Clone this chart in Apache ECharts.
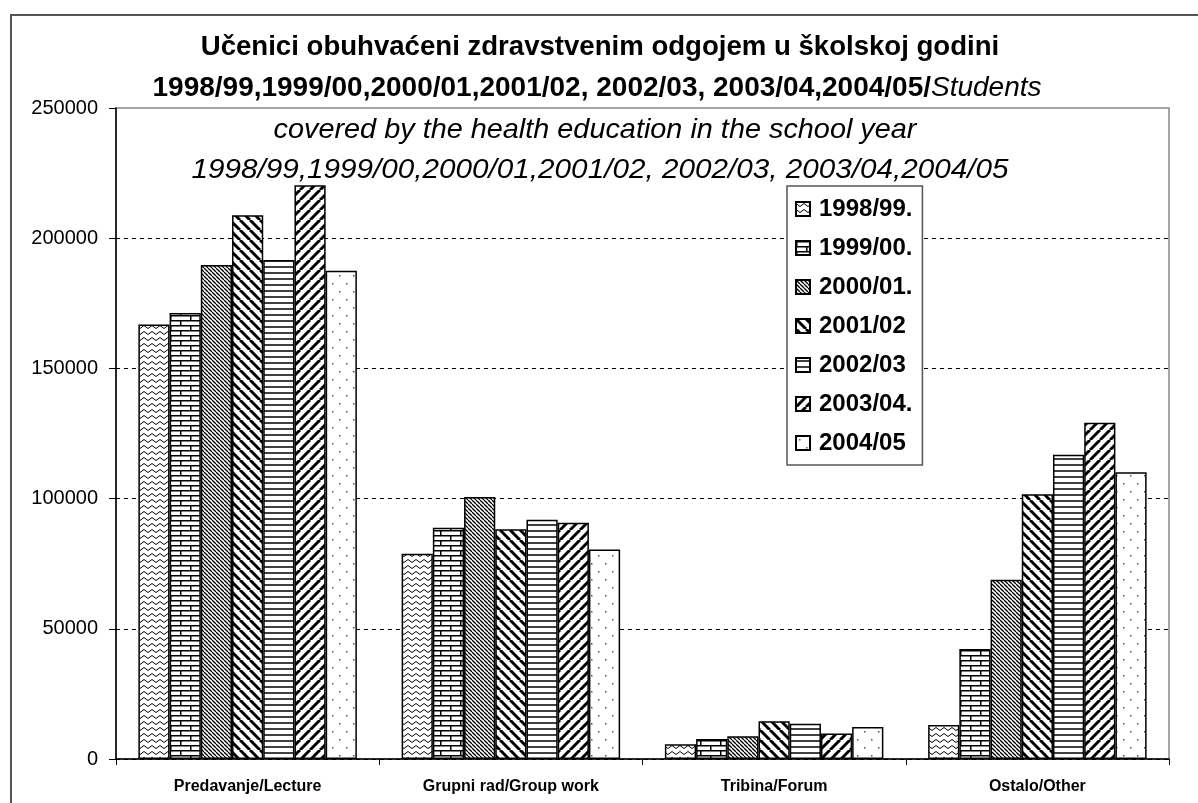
<!DOCTYPE html>
<html>
<head>
<meta charset="utf-8">
<script src="https://cdn.jsdelivr.net/npm/echarts@6/dist/echarts.min.js"></script>
<style>
  html, body { margin: 0; padding: 0; background: #fff; }
  #chart { width: 1198px; height: 803px; }
</style>
</head>
<body>
<div id="chart"></div>
<script>
var categories = ['Predavanje/Lecture', 'Grupni rad/Group work', 'Tribina/Forum', 'Ostalo/Other'];
var years = ['1998/99.', '1999/00.', '2000/01.', '2001/02', '2002/03', '2003/04.', '2004/05'];

var y1998 = [166900, 78800, 5700, 13100];
var y1999 = [171300, 88800, 7700, 42200];
var y2000 = [189700, 100600, 8700, 68800];
var y2001 = [208800, 88200, 14500, 101700];
var y2002 = [191600, 91900, 13500, 116800];
var y2003 = [220300, 90700, 9800, 129100];
var y2004 = [187500, 80500, 12300, 110100];
var values = [y1998, y1999, y2000, y2001, y2002, y2003, y2004];

var titleLine1 = 'Učenici obuhvaćeni zdravstvenim odgojem u školskoj godini';
var titleLine2a = '1998/99,1999/00,2000/01,2001/02, 2002/03, 2003/04,2004/05/';
var titleLine2b = 'Students';
var titleLine3 = 'covered by the health education in the school year';
var titleLine4 = '1998/99,1999/00,2000/01,2001/02, 2002/03, 2003/04,2004/05';

// fill patterns (excel-like hatching)
function pat(w, h, draw) {
    var c = document.createElement('canvas');
    c.width = w; c.height = h;
    var g = c.getContext('2d');
    g.fillStyle = '#fff';
    g.fillRect(0, 0, w, h);
    g.strokeStyle = '#000';
    g.fillStyle = '#000';
    draw(g, w, h);
    return { image: c, repeat: 'repeat' };
}
function diag(g, s, lw, up) {
    g.lineWidth = lw;
    for (var k = -s; k <= s; k += s) {
        g.beginPath();
        if (up) { g.moveTo(k, s); g.lineTo(k + s, 0); }
        else { g.moveTo(k, 0); g.lineTo(k + s, s); }
        g.stroke();
    }
}
var patterns = [
    pat(8, 6, function (g) {
        g.lineWidth = 1;
        g.beginPath();
        g.moveTo(0, 1.5); g.lineTo(4, 4.5); g.lineTo(8, 1.5);
        g.stroke();
    }),
    pat(20, 10, function (g) {
        g.lineWidth = 1.5;
        g.beginPath();
        g.moveTo(0, 0.75); g.lineTo(20, 0.75);
        g.moveTo(0, 5.75); g.lineTo(20, 5.75);
        g.moveTo(0.75, 0); g.lineTo(0.75, 5);
        g.moveTo(10.75, 5); g.lineTo(10.75, 10);
        g.stroke();
    }),
    pat(4, 4, function (g) { diag(g, 4, 1.3, false); }),
    pat(10, 10, function (g) { diag(g, 10, 3, false); }),
    pat(4, 6, function (g) {
        g.lineWidth = 1.5;
        g.beginPath(); g.moveTo(0, 3); g.lineTo(4, 3); g.stroke();
    }),
    pat(10, 10, function (g) { diag(g, 10, 3, true); }),
    pat(14, 16, function (g) {
        g.fillStyle = '#555';
        g.fillRect(3, 3, 1.5, 1.5);
        g.fillRect(10, 11, 1.5, 1.5);
    })
];

var series = years.map(function (name, i) {
    return {
        name: name,
        type: 'bar',
        data: values[i],
        barGap: '0%',
        barCategoryGap: '17%',
        itemStyle: { color: patterns[i], borderColor: '#000', borderWidth: 1.5 },
        emphasis: { disabled: true }
    };
});

var titleFont = 'Liberation Sans, Arial, sans-serif';

var option = {
    animation: false,
    backgroundColor: '#fff',
    grid: {
        left: 116, right: 29, top: 108, bottom: 44,
        show: true, borderColor: '#888', borderWidth: 1.5
    },
    legend: {
        data: years,
        orient: 'vertical',
        left: 787, top: 186,
        padding: [11, 10, 10, 8],
        itemWidth: 14, itemHeight: 14,
        itemGap: 15,
        backgroundColor: '#fff',
        borderColor: '#555', borderWidth: 1.5,
        icon: 'rect',
        textStyle: {
            fontFamily: titleFont, fontWeight: 'bold', fontSize: 24,
            lineHeight: 24, color: '#000', padding: [0, 0, 0, 4]
        }
    },
    xAxis: {
        type: 'category',
        data: categories,
        axisLine: { lineStyle: { color: '#000', width: 1.5 } },
        axisTick: { show: true, length: 6, lineStyle: { color: '#000' } },
        axisLabel: { margin: 20, color: '#000', fontFamily: titleFont, fontWeight: 'bold', fontSize: 16 }
    },
    yAxis: {
        type: 'value',
        min: 0, max: 250000, interval: 50000,
        axisLine: { show: true, lineStyle: { color: '#000', width: 1.5 } },
        axisTick: { show: true, length: 7, lineStyle: { color: '#000' } },
        axisLabel: {
            margin: 18, color: '#000', fontFamily: titleFont, fontSize: 20,
            formatter: function (v) { return String(v); }
        },
        splitLine: { show: true, showMaxLine: false, lineStyle: { color: '#000', type: [4, 4], width: 1 } }
    },
    graphic: [
        { type: 'rect', shape: { x: 11, y: 15, width: 1400, height: 900 }, style: { fill: null, stroke: '#555', lineWidth: 2 }, silent: true, z: -1 },
        { type: 'text', x: 600, y: 47, scaleX: 0.985, style: { text: titleLine1, font: 'bold 28px ' + titleFont, fill: '#000', textAlign: 'center', textVerticalAlign: 'middle' } },
        { type: 'text', x: 597, y: 88, scaleX: 1.0, style: {
            text: '{b|' + titleLine2a + '}{i|' + titleLine2b + '}',
            textAlign: 'center', textVerticalAlign: 'middle',
            rich: {
                b: { font: 'bold 28px ' + titleFont, fill: '#000' },
                i: { font: 'italic 28px ' + titleFont, fill: '#000' }
            }
        } },
        { type: 'text', x: 595, y: 130, scaleX: 1.03, style: { text: titleLine3, font: 'italic 28px ' + titleFont, fill: '#000', textAlign: 'center', textVerticalAlign: 'middle' } },
        { type: 'text', x: 600, y: 170, scaleX: 1.06, style: { text: titleLine4, font: 'italic 28px ' + titleFont, fill: '#000', textAlign: 'center', textVerticalAlign: 'middle' } }
    ],
    series: series
};

var myChart = echarts.init(document.getElementById('chart'));
myChart.setOption(option);
</script>
</body>
</html>
